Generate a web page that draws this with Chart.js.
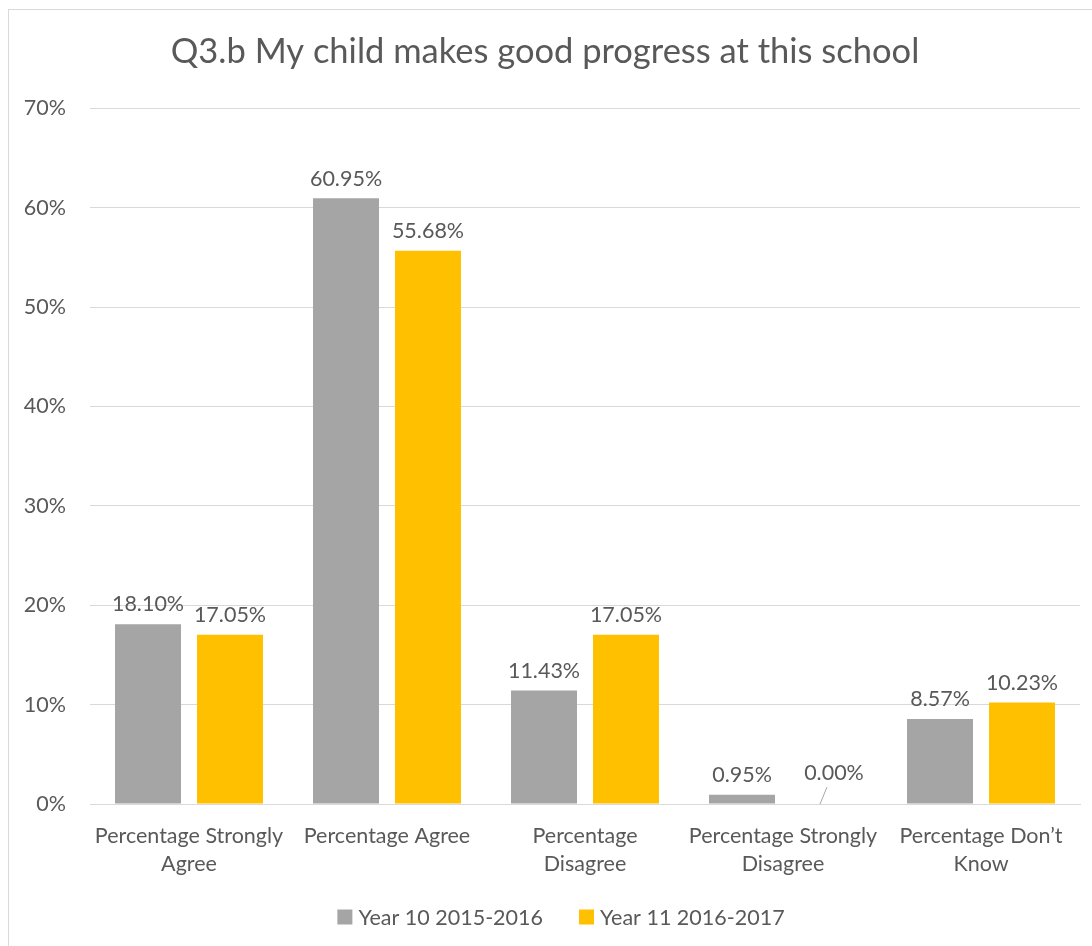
<!DOCTYPE html>
<html>
<head>
<meta charset="utf-8">
<script src="https://cdn.jsdelivr.net/npm/chart.js@4/dist/chart.umd.min.js"></script>
<style>
  body { margin: 0; background: #fff; }
  #wrap { position: absolute; left: 0; top: 0; width: 1092px; height: 946px; }
  #frame { position: absolute; left: 8px; top: 9px; width: 1100px; height: 960px; border: 1px solid #d9d9d9; pointer-events: none; }
</style>
</head>
<body>
<div id="wrap"><canvas id="chart"></canvas></div>
<div id="frame"></div>
<script>
const categories = [
  ["Percentage Strongly", "Agree"],
  "Percentage Agree",
  ["Percentage", "Disagree"],
  ["Percentage Strongly", "Disagree"],
  ["Percentage Don\u2019t", "Know"]
];
const year10 = [18.10, 60.95, 11.43, 0.95, 8.57];
const year11 = [17.05, 55.68, 17.05, 0.00, 10.23];
const seriesNames = ["Year 10 2015-2016", "Year 11 2016-2017"];
const yTicks = [0, 10, 20, 30, 40, 50, 60, 70];

const fontFamily = "Lato, 'Open Sans', sans-serif";
const textColor = "#595959";
const fs = 21.5;

// draws the value labels above each bar
const barLabels = {
    id: "barLabels",
    afterDatasetsDraw(chart) {
        const c = chart.ctx;
        c.save();
        c.font = fs + "px " + fontFamily;
        c.fillStyle = textColor;
        c.textAlign = "center";
        c.textBaseline = "bottom";
        chart.data.datasets.forEach((ds, i) => {
            chart.getDatasetMeta(i).data.forEach((bar, j) => {
                const v = ds.data[j];
                const txt = v.toFixed(2) + "%";
                if (v === 0) {
                    // zero bar: label lifted with a small leader line
                    c.strokeStyle = "#a6a6a6";
                    c.lineWidth = 1;
                    c.beginPath();
                    c.moveTo(bar.x - 4, bar.y);
                    c.lineTo(bar.x + 3, bar.y - 17);
                    c.stroke();
                    c.fillText(txt, bar.x + 10, bar.y - 20);
                } else {
                    c.fillText(txt, bar.x, bar.y - 9);
                }
            });
        });
        c.restore();
    }
};

// simple bottom legend, drawn by hand so its spot is fixed
const bottomLegend = {
    id: "bottomLegend",
    afterDraw(chart) {
        const c = chart.ctx;
        const y = 917, box = 15, gap = 6, itemGap = 36;
        c.save();
        c.font = fs + "px " + fontFamily;
        c.textBaseline = "middle";
        const items = chart.data.datasets.map(ds => ({
            text: ds.label, color: ds.backgroundColor, w: box + gap + c.measureText(ds.label).width
        }));
        const total = items.reduce((s, it) => s + it.w, 0) + itemGap * (items.length - 1);
        let x = 561 - total / 2;
        items.forEach(it => {
            c.fillStyle = it.color;
            c.fillRect(x, y - box / 2, box, box);
            c.fillStyle = textColor;
            c.fillText(it.text, x + box + gap, y + 1);
            x += it.w + itemGap;
        });
        c.restore();
    }
};

new Chart(document.getElementById("chart"), {
    type: "bar",
    data: {
        labels: categories,
        datasets: [
            { label: seriesNames[0], data: year10, backgroundColor: "#a5a5a5" },
            { label: seriesNames[1], data: year11, backgroundColor: "#ffc000" }
        ]
    },
    options: {
        responsive: true,
        maintainAspectRatio: false,
        animation: false,
        datasets: { bar: { categoryPercentage: 0.828, barPercentage: 0.805 } },
        layout: { padding: { left: 10, right: 12, top: 14, bottom: 58 } },
        plugins: {
            title: {
                display: true,
                text: "Q3.b My child makes good progress at this school",
                color: textColor,
                font: { family: fontFamily, size: 34.5, weight: "normal" },
                padding: { top: 17, bottom: 36 }
            },
            legend: { display: false },
            tooltip: { enabled: false }
        },
        scales: {
            x: {
                grid: { display: false },
                border: { color: "#d9d9d9" },
                ticks: {
                    color: textColor,
                    font: { family: fontFamily, size: fs, lineHeight: 1.3 },
                    maxRotation: 0,
                    padding: 10
                }
            },
            y: {
                min: 0,
                max: 70,
                afterBuildTicks(axis) {
                    axis.ticks = yTicks.map(v => ({ value: v }));
                },
                afterFit(axis) { axis.width = 80; },
                grid: { color: "#d9d9d9", drawTicks: false },
                border: { display: false },
                ticks: {
                    color: textColor,
                    font: { family: fontFamily, size: fs },
                    padding: 24,
                    callback: v => v + "%"
                }
            }
        }
    },
    plugins: [barLabels, bottomLegend]
});
</script>
</body>
</html>
